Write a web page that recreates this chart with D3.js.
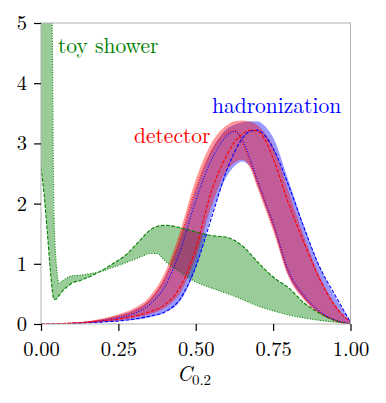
<!DOCTYPE html>
<html>
<head>
<meta charset="utf-8">
<script src="https://cdn.jsdelivr.net/npm/d3@7"></script>
<style>
  body { margin:0; background:#fff; }
</style>
</head>
<body>
<svg id="chart" width="386" height="403"></svg>
<script>
// toy shower (green) — fine grid near 0 because of the spike
const toyX    = [0, 0.01, 0.02, 0.03, 0.036, 0.042, 0.048, 0.052, 0.058, 0.07, 0.085, 0.1, 0.125, 0.15, 0.175, 0.2, 0.225, 0.25, 0.275, 0.3, 0.325, 0.35, 0.375, 0.4, 0.45, 0.5, 0.55, 0.6, 0.65, 0.7, 0.75, 0.8, 0.85, 0.9, 0.95, 1.0];
const toyDot  = [12, 10, 8, 6.5, 5.0, 1.8, 1.1, 0.85, 0.68, 0.72, 0.77, 0.8, 0.81, 0.83, 0.85, 0.88, 0.93, 0.97, 1.02, 1.07, 1.12, 1.17, 1.17, 1.05, 0.86, 0.70, 0.6, 0.51, 0.41, 0.3, 0.22, 0.15, 0.1, 0.06, 0.03, 0];
const toyDash = [2.6, 2.15, 1.55, 0.9, 0.58, 0.41, 0.41, 0.43, 0.47, 0.55, 0.62, 0.68, 0.72, 0.77, 0.83, 0.9, 0.98, 1.06, 1.15, 1.28, 1.42, 1.55, 1.62, 1.64, 1.6, 1.53, 1.47, 1.44, 1.3, 1.03, 0.78, 0.6, 0.35, 0.18, 0.06, 0];

// detector (red) and hadronization (blue)
const peakX = [0, 0.05, 0.1, 0.15, 0.2, 0.25, 0.3, 0.35, 0.4, 0.45, 0.5, 0.55, 0.6, 0.625, 0.65, 0.675, 0.7, 0.725, 0.75, 0.8, 0.85, 0.9, 0.95, 1.0];
const detDot  = [0, 0.005, 0.015, 0.035, 0.07, 0.12, 0.2, 0.38, 0.75, 1.42, 2.25, 2.85, 3.17, 3.22, 3.02, 2.7, 2.35, 2.0, 1.65, 0.85, 0.45, 0.2, 0.06, 0];
const detDash = [0, 0.005, 0.015, 0.03, 0.055, 0.08, 0.13, 0.2, 0.32, 0.62, 1.25, 2.2, 2.8, 3.02, 3.15, 3.22, 3.2, 3.05, 2.75, 2.0, 1.35, 0.75, 0.3, 0.03];
const detHi   = [0, 0.008, 0.02, 0.045, 0.09, 0.16, 0.26, 0.45, 0.85, 1.55, 2.4, 3.0, 3.3, 3.37, 3.38, 3.36, 3.3, 3.16, 2.95, 2.2, 1.45, 0.8, 0.33, 0.03];
const detLo   = [0, 0.003, 0.01, 0.02, 0.04, 0.06, 0.1, 0.16, 0.27, 0.52, 1.1, 1.95, 2.55, 2.68, 2.73, 2.6, 2.25, 1.9, 1.55, 0.78, 0.4, 0.17, 0.05, 0];

const hadDot  = [0, 0.004, 0.012, 0.028, 0.055, 0.1, 0.17, 0.32, 0.62, 1.22, 2.05, 2.72, 3.12, 3.2, 3.06, 2.75, 2.38, 2.02, 1.68, 0.88, 0.47, 0.21, 0.07, 0.01];
const hadDash = [0, 0.003, 0.01, 0.02, 0.035, 0.05, 0.08, 0.13, 0.2, 0.42, 0.95, 1.75, 2.55, 2.85, 3.08, 3.2, 3.22, 3.12, 2.92, 2.3, 1.6, 0.95, 0.48, 0.03];
const hadHi   = [0, 0.007, 0.017, 0.04, 0.08, 0.14, 0.23, 0.40, 0.77, 1.41, 2.23, 2.88, 3.24, 3.31, 3.35, 3.37, 3.37, 3.28, 3.1, 2.38, 1.62, 0.95, 0.45, 0.04];
const hadLo   = [0, 0.002, 0.007, 0.016, 0.03, 0.045, 0.07, 0.11, 0.19, 0.38, 0.93, 1.8, 2.45, 2.62, 2.7, 2.62, 2.3, 1.95, 1.6, 0.8, 0.42, 0.18, 0.05, 0];

const xTicks = [0, 0.25, 0.5, 0.75, 1.0];
const yTicks = [0, 1, 2, 3, 4, 5];

const GREEN = "#008000", RED = "#ff0000", BLUE = "#0000ff";
const FONT = '"Latin Modern Roman"';

const svg = d3.select("#chart");
const x = d3.scaleLinear().domain([0, 1]).range([41, 350.5]);
const y = d3.scaleLinear().domain([0, 5]).range([324, 23]);

svg.append("defs").append("clipPath").attr("id", "plot")
  .append("rect").attr("x", 41).attr("y", 23).attr("width", 309.5).attr("height", 301);

const g = svg.append("g").attr("clip-path", "url(#plot)");

function band(xs, lo, hi, color){
  const area = d3.area()
    .x((d, i) => x(xs[i]))
    .y0((d, i) => y(lo[i]))
    .y1((d, i) => y(hi[i]))
    .curve(d3.curveMonotoneX);
  g.append("path").datum(xs).attr("d", area)
    .attr("fill", color).attr("fill-opacity", 0.4).attr("stroke", "none");
}
function curve(xs, vals, color, dash){
  const line = d3.line()
    .x((d, i) => x(xs[i]))
    .y((d, i) => y(vals[i]))
    .curve(d3.curveMonotoneX);
  g.append("path").datum(xs).attr("d", line)
    .attr("fill", "none").attr("stroke", color).attr("stroke-width", 1.1)
    .attr("stroke-dasharray", dash);
}
const DASHED = "3.7,1.6", DOTTED = "1,1.6";

// fills first (green, blue, red), then lines
band(toyX, toyDot, toyDash, GREEN);
band(peakX, hadLo, hadHi, BLUE);
band(peakX, detLo, detHi, RED);

curve(toyX, toyDot, GREEN, DOTTED);
curve(toyX, toyDash, GREEN, DASHED);
curve(peakX, hadDot, BLUE, DOTTED);
curve(peakX, hadDash, BLUE, DASHED);
curve(peakX, detDot, RED, DOTTED);
curve(peakX, detDash, RED, DASHED);

// spines
svg.append("rect").attr("x", 41).attr("y", 23).attr("width", 309.5).attr("height", 301)
  .attr("fill", "none").attr("stroke", "#b0b0b0").attr("stroke-width", 1);

// axes
const ax = svg.append("g").attr("transform", "translate(0,324)")
  .call(d3.axisBottom(x).tickValues(xTicks).tickFormat(d3.format(".2f")).tickSize(7).tickPadding(10));
const ay = svg.append("g").attr("transform", "translate(41,0)")
  .call(d3.axisLeft(y).tickValues(yTicks).tickFormat(d3.format("d")).tickSize(7).tickPadding(7));
[ax, ay].forEach(a => {
  a.select(".domain").remove();
  a.selectAll(".tick line").attr("stroke", "#000").attr("stroke-width", 1.2);
  a.selectAll(".tick text").attr("fill", "#000")
    .style("font-family", FONT).style("font-size", "20.5px");
});

// x label
const xl = svg.append("text").attr("x", 194).attr("y", 381)
  .attr("text-anchor", "middle").attr("fill", "#000")
  .style("font-family", FONT).style("font-size", "21px");
xl.append("tspan").style("font-style", "italic").text("C");
xl.append("tspan").attr("dy", 4).style("font-size", "15px").text("0.2");

// series labels
function label(txt, px, py, color){
  svg.append("text").attr("x", px).attr("y", py).attr("fill", color)
    .style("font-family", FONT).style("font-size", "21.5px").text(txt);
}
label("toy shower", 58, 53, GREEN);
label("hadronization", 212, 113, BLUE);
label("detector", 134, 143, RED);
</script>
</body>
</html>
